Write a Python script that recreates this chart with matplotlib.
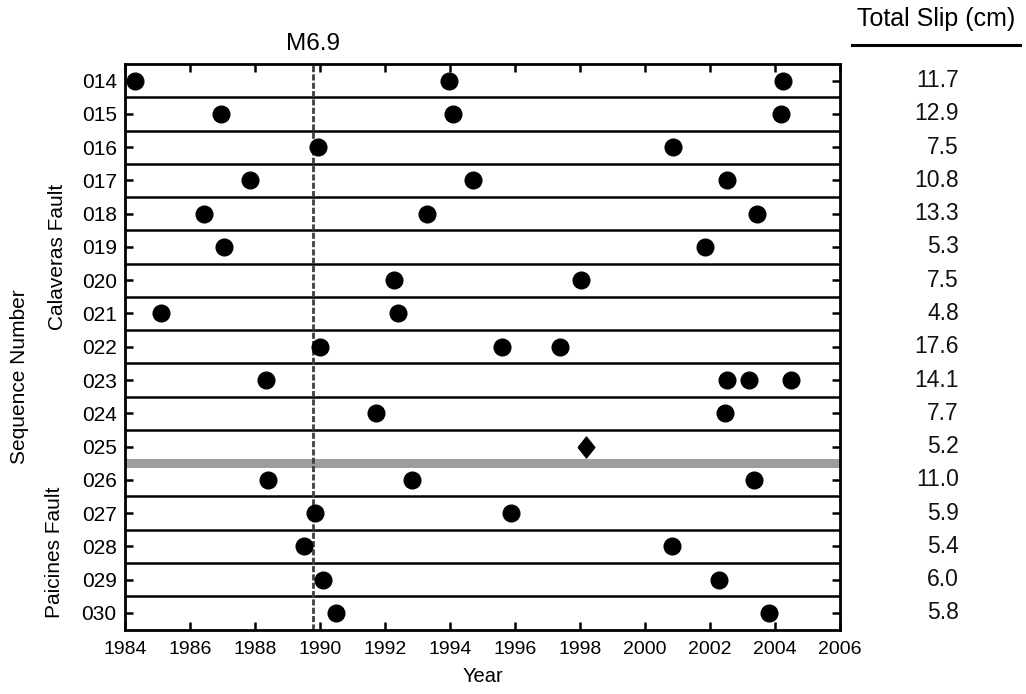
import matplotlib
matplotlib.use("Agg")
import matplotlib.pyplot as plt
from matplotlib.transforms import blended_transform_factory
from matplotlib.lines import Line2D

plt.rcParams['font.family'] = ['Liberation Sans', 'DejaVu Sans']

# Repeating earthquake sequences and the decimal years of their events
sequences = ['014', '015', '016', '017', '018', '019', '020', '021', '022',
             '023', '024', '025', '026', '027', '028', '029', '030']
event_years = [
    [1984.30, 1993.98, 2004.24],
    [1986.94, 1994.10, 2004.20],
    [1989.95, 2000.86],
    [1987.85, 1994.72, 2002.51],
    [1986.43, 1993.30, 2003.45],
    [1987.05, 2001.86],
    [1992.29, 1998.03],
    [1985.10, 1992.40],
    [1990.00, 1995.59, 1997.38],
    [1988.33, 2002.51, 2003.19, 2004.48],
    [1991.71, 2002.47],
    [1998.18],
    [1988.41, 1992.83, 2003.35],
    [1989.84, 1995.88],
    [1989.50, 2000.82],
    [1990.08, 2002.28],
    [1990.49, 2003.82],
]
total_slip = [11.7, 12.9, 7.5, 10.8, 13.3, 5.3, 7.5, 4.8, 17.6,
              14.1, 7.7, 5.2, 11.0, 5.9, 5.4, 6.0, 5.8]
diamond_sequences = ['025']
fault_boundary = 11.5          # between sequences 025 and 026
mainshock_year = 1989.8
mainshock_label = 'M6.9'
year_ticks = list(range(1984, 2007, 2))

fig = plt.figure(figsize=(10.26, 6.94), dpi=100)
ax = fig.add_axes([0.1218, 0.0929, 0.6969, 0.8149])

n = len(sequences)
ax.set_xlim(1984, 2006)
ax.set_ylim(n - 0.5, -0.5)

# Row separators and the fault boundary band
for k in range(n - 1):
    y = k + 0.5
    if y == fault_boundary:
        ax.axhspan(y - 0.135, y + 0.135, color='#9d9d9d', lw=0, zorder=1)
    else:
        ax.axhline(y, color='black', lw=1.8, zorder=1)

# Loma Prieta mainshock
ax.axvline(mainshock_year, color='#404040', lw=2.0, dashes=(2.2, 0.8), zorder=2)

# Events
diamond_verts = [(-0.4, 0), (0, 0.5), (0.4, 0), (0, -0.5), (-0.4, 0)]
for i, (seq, years) in enumerate(zip(sequences, event_years)):
    if seq in diamond_sequences:
        ax.plot(years, [i] * len(years), linestyle='none', marker=diamond_verts,
                markersize=15, color='black', zorder=3)
    else:
        ax.plot(years, [i] * len(years), linestyle='none', marker='o',
                markersize=12, color='black', zorder=3)

ax.set_yticks(range(n))
ax.set_yticklabels(sequences)
ax.set_xticks(year_ticks)
ax.tick_params(axis='both', direction='in', length=6, width=1.8,
               top=True, right=True)
ax.tick_params(axis='x', pad=8, labelsize=14)
ax.tick_params(axis='y', pad=6, labelsize=15)
for s in ax.spines.values():
    s.set_linewidth(2.0)

ax.set_xlabel('Year', fontsize=14.5, labelpad=7)

# Left-side labels
fig.text(20 / 1026, 1 - 377 / 694, 'Sequence Number', rotation=90,
         ha='center', va='center', fontsize=15)
fig.text(58 / 1026, 1 - 257 / 694, 'Calaveras Fault', rotation=90,
         ha='center', va='center', fontsize=15)
fig.text(55 / 1026, 1 - 552 / 694, 'Paicines Fault', rotation=90,
         ha='center', va='center', fontsize=15)

# Mainshock label
tr_top = blended_transform_factory(ax.transData, fig.transFigure)
ax.text(mainshock_year, 1 - 44 / 694, mainshock_label, transform=tr_top,
        ha='center', va='center', fontsize=17.5)

# Total slip column
tr_right = blended_transform_factory(fig.transFigure, ax.transData)
for i, slip in enumerate(total_slip):
    ax.text(0.9345, i, f'{slip:.1f}', transform=tr_right, ha='right',
            va='center', fontsize=16.5, color='#111111', clip_on=False)
fig.text(936 / 1026, 1 - 19 / 694, 'Total Slip (cm)', ha='center', va='center',
         fontsize=18)
fig.add_artist(Line2D([852 / 1026, 1020 / 1026], [1 - 45 / 694, 1 - 45 / 694],
                      transform=fig.transFigure, color='black', lw=2.2))

fig.savefig('out.png', dpi=100)
